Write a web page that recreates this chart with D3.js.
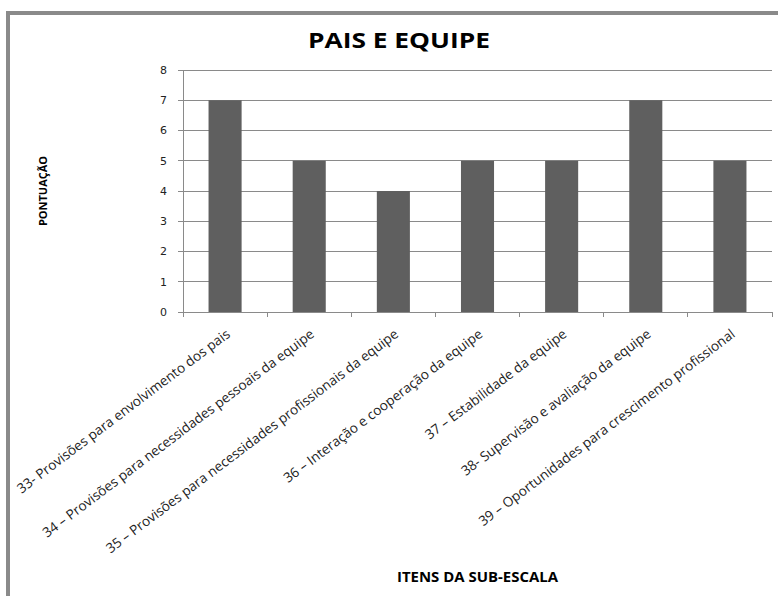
<!DOCTYPE html>
<html><head><meta charset="utf-8">
<script src="https://cdn.jsdelivr.net/npm/d3@7"></script>
<style>body{margin:0;background:#fff}svg{display:block}</style>
</head><body><svg id="c" width="778" height="596"></svg>
<script>
const categories = [
  "33- Provisões para envolvimento dos pais",
  "34 – Provisões para necessidades pessoais da equipe",
  "35 – Provisões para necessidades profissionais da equipe",
  "36 – Interação e cooperação da equipe",
  "37 – Estabilidade da equipe",
  "38- Supervisão e avaliação da equipe",
  "39 – Oportunidades para crescimento profissional"
];
const values = [7, 5, 4, 5, 5, 7, 5];
const yTicks = [0, 1, 2, 3, 4, 5, 6, 7, 8];
const title = "PAIS E EQUIPE";
const yLabel = "PONTUAÇÃO";
const xLabel = "ITENS DA SUB-ESCALA";

const svg = d3.select("#c");
svg.append("rect").attr("x", 8).attr("y", 13).attr("width", 820).attr("height", 700)
  .attr("fill", "#fff").attr("stroke", "#8a8a8a").attr("stroke-width", 4);

const L = 183, R = 772, T = 70, B = 312;
const x = d3.scaleBand().domain(categories).range([L, R]).paddingInner(0.607).paddingOuter(0.3035);
const y = d3.scaleLinear().domain([0, 8]).range([B, T]);

// gridlines
svg.append("g").selectAll("line").data(yTicks).join("line")
  .attr("x1", L - 5).attr("x2", R).attr("y1", d => y(d)).attr("y2", d => y(d))
  .attr("stroke", "#8a8a8a").attr("stroke-width", 1).attr("shape-rendering", "crispEdges");

// y tick labels
svg.append("g").selectAll("text").data(yTicks).join("text")
  .attr("x", 167).attr("y", d => y(d)).attr("dy", "0.35em").attr("text-anchor", "end")
  .attr("font-family", "DejaVu Sans").attr("font-size", 11).attr("fill", "#222").text(d => d);

// bars
svg.append("g").selectAll("rect").data(values).join("rect")
  .attr("x", (d, i) => x(categories[i])).attr("width", x.bandwidth())
  .attr("y", d => y(d)).attr("height", d => y(0) - y(d))
  .attr("fill", "#5f5f5f");

// axes lines
svg.append("line").attr("x1", L).attr("x2", L).attr("y1", T).attr("y2", B)
  .attr("stroke", "#8a8a8a").attr("shape-rendering", "crispEdges");
svg.append("line").attr("x1", L).attr("x2", R).attr("y1", B).attr("y2", B)
  .attr("stroke", "#8a8a8a").attr("shape-rendering", "crispEdges");
const bounds = d3.range(categories.length + 1).map(i => L + i * (R - L) / categories.length);
svg.append("g").selectAll("line").data(bounds).join("line")
  .attr("x1", d => d).attr("x2", d => d).attr("y1", B).attr("y2", B + 5)
  .attr("stroke", "#8a8a8a").attr("shape-rendering", "crispEdges");

// category labels
svg.append("g").selectAll("text").data(categories).join("text")
  .attr("transform", d => `translate(${x(d) + x.bandwidth() / 2 + 6},${B + 24}) rotate(-37)`)
  .attr("text-anchor", "end")
  .attr("font-family", "Open Sans").attr("font-size", 13.6).attr("fill", "#222").text(d => d);

// title
svg.append("text").attr("x", 399).attr("y", 48).attr("text-anchor", "middle")
  .attr("font-family", "Open Sans").attr("font-weight", "bold").attr("font-size", 21.5)
  .attr("textLength", 182).attr("lengthAdjust", "spacingAndGlyphs")
  .attr("fill", "#000").text(title);

// y label
svg.append("text").attr("transform", "translate(47,191) rotate(-90)").attr("text-anchor", "middle")
  .attr("font-family", "Open Sans").attr("font-weight", "bold").attr("font-size", 11)
  .attr("fill", "#000").text(yLabel);

// x label
svg.append("text").attr("x", 477.5).attr("y", 582).attr("text-anchor", "middle")
  .attr("font-family", "Open Sans").attr("font-weight", "bold").attr("font-size", 13.5)
  .attr("textLength", 161).attr("lengthAdjust", "spacingAndGlyphs")
  .attr("fill", "#000").text(xLabel);
</script>
</body></html>
